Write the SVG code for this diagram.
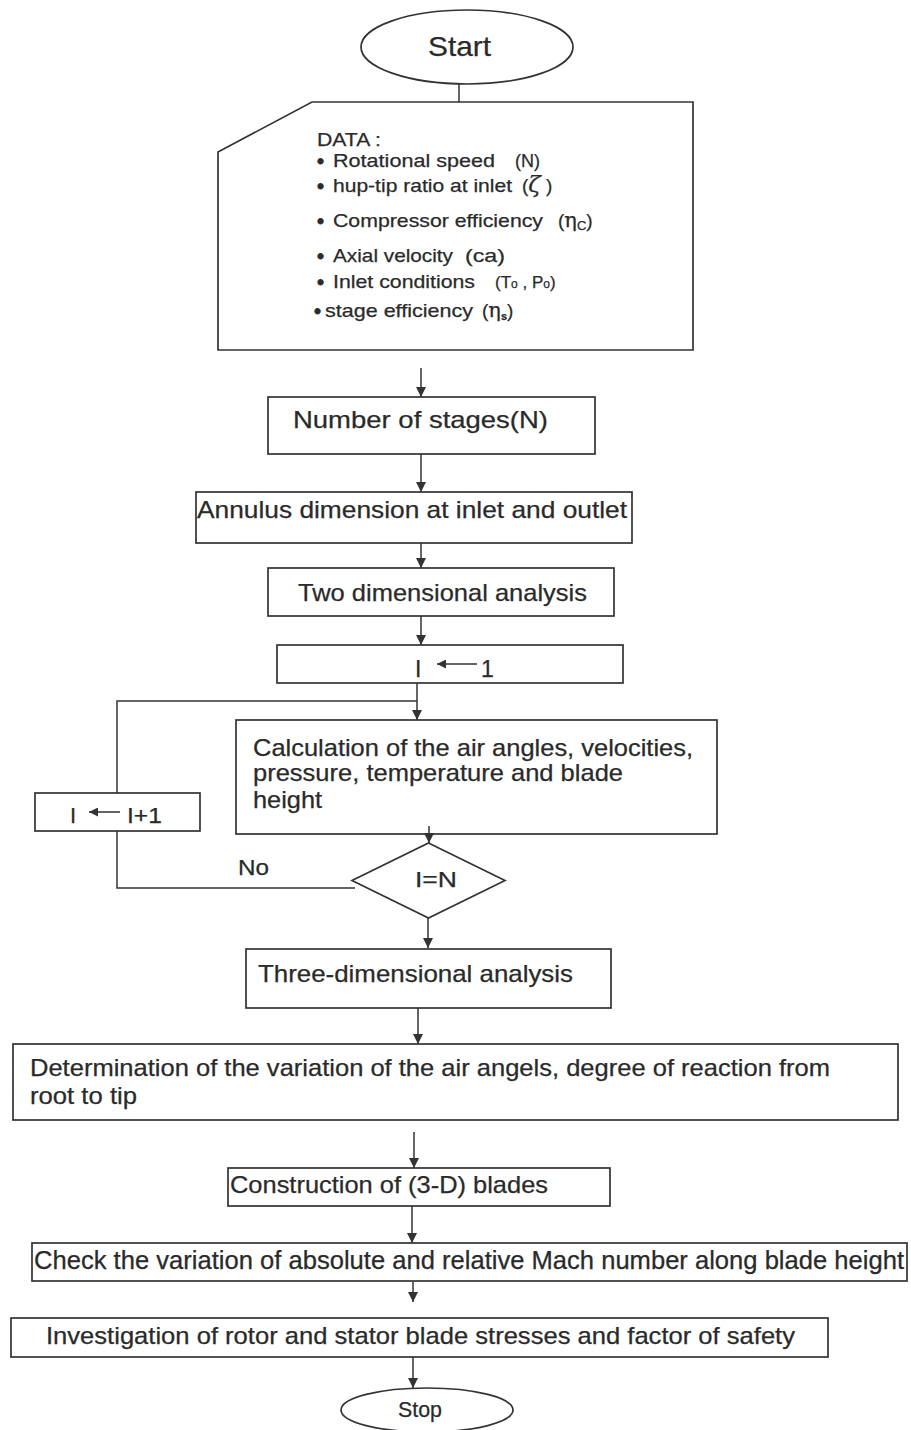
<svg xmlns="http://www.w3.org/2000/svg" width="911" height="1430" viewBox="0 0 911 1430">
<style>
  .box{fill:none;stroke:#333333;stroke-width:1.7}
  .ln{fill:none;stroke:#333333;stroke-width:1.5}
  text{font-family:"Liberation Sans",Arial,sans-serif;fill:#2a2a2a;stroke:#2a2a2a;stroke-width:0.25}
  .d{font-size:19px}
  .m{font-size:24px}
  .b{font-size:20px;stroke-width:0.8}
</style>
<defs>
  <marker id="ah" viewBox="0 0 10 10" refX="10" refY="5" markerWidth="10" markerHeight="12" markerUnits="userSpaceOnUse" orient="auto">
    <path d="M0,0 L10,5 L0,10 z" fill="#333333"/>
  </marker>
  <marker id="ahs" viewBox="0 0 10 10" refX="10" refY="5" markerWidth="13" markerHeight="9" markerUnits="userSpaceOnUse" orient="auto">
    <path d="M0,0 L10,5 L0,10 z" fill="#333333"/>
  </marker>
</defs>
<rect width="911" height="1430" fill="#ffffff"/>

<g id="connectors">
  <line class="ln" x1="459" y1="84" x2="459" y2="102"/>
  <line class="ln" x1="421" y1="368" x2="421" y2="397" marker-end="url(#ah)"/>
  <line class="ln" x1="421" y1="454" x2="421" y2="492" marker-end="url(#ah)"/>
  <line class="ln" x1="421" y1="543" x2="421" y2="568" marker-end="url(#ah)"/>
  <line class="ln" x1="421" y1="616" x2="421" y2="645" marker-end="url(#ah)"/>
  <line class="ln" x1="417" y1="683" x2="417" y2="720" marker-end="url(#ah)"/>
  <polyline class="ln" points="355,888 117,888 117,831"/>
  <polyline class="ln" points="117,793 117,701 417,701"/>
  <line class="ln" x1="429" y1="826" x2="429" y2="843" marker-end="url(#ah)"/>
  <line class="ln" x1="428" y1="918" x2="428" y2="948" marker-end="url(#ah)"/>
  <line class="ln" x1="418" y1="1008" x2="418" y2="1044" marker-end="url(#ah)"/>
  <line class="ln" x1="414" y1="1132" x2="414" y2="1168" marker-end="url(#ah)"/>
  <line class="ln" x1="412" y1="1206" x2="412" y2="1243" marker-end="url(#ah)"/>
  <line class="ln" x1="413" y1="1282" x2="413" y2="1302" marker-end="url(#ah)"/>
  <line class="ln" x1="413" y1="1357" x2="413" y2="1388" marker-end="url(#ah)"/>
</g>

<g id="start">
  <ellipse class="box" cx="467" cy="47" rx="106" ry="37"/>
  <text x="428" y="56" font-size="28" textLength="63" lengthAdjust="spacingAndGlyphs">Start</text>
</g>

<g id="data">
  <path class="box" d="M312,102 L693,102 L693,350 L218,350 L218,152 Z"/>
  <text class="d" x="317" y="146" textLength="64" lengthAdjust="spacingAndGlyphs">DATA :</text>
  <text class="b" x="317" y="168">•</text>
  <text class="d" x="333" y="167" textLength="162" lengthAdjust="spacingAndGlyphs">Rotational speed</text>
  <text class="d" x="515" y="167" textLength="25" lengthAdjust="spacingAndGlyphs">(N)</text>
  <text class="b" x="317" y="193">•</text>
  <text class="d" x="333" y="192" textLength="179" lengthAdjust="spacingAndGlyphs">hup-tip ratio at inlet</text>
  <text class="d" x="522" y="192">(<tspan font-family="DejaVu Serif,serif" font-style="italic" font-size="23">ζ</tspan> )</text>
  <text class="b" x="317" y="228">•</text>
  <text class="d" x="333" y="227" textLength="210" lengthAdjust="spacingAndGlyphs">Compressor efficiency</text>
  <text class="d" x="558" y="227">(<tspan font-family="DejaVu Serif,serif" font-size="21">η</tspan><tspan font-size="13" dy="3">C</tspan><tspan dy="-3">)</tspan></text>
  <text class="b" x="317" y="263">•</text>
  <text class="d" x="333" y="262" textLength="120" lengthAdjust="spacingAndGlyphs">Axial velocity</text>
  <text class="d" x="465" y="262" textLength="40" lengthAdjust="spacingAndGlyphs">(ca)</text>
  <text class="b" x="317" y="289">•</text>
  <text class="d" x="333" y="288" textLength="142" lengthAdjust="spacingAndGlyphs">Inlet conditions</text>
  <text x="495" y="288" font-size="17">(T<tspan font-size="12">o</tspan> , P<tspan font-size="12">o</tspan>)</text>
  <text class="b" x="314" y="318">•</text>
  <text class="d" x="325" y="317" textLength="148" lengthAdjust="spacingAndGlyphs">stage efficiency</text>
  <text class="d" x="482" y="317">(<tspan font-family="DejaVu Serif,serif" font-size="21">η</tspan><tspan font-size="11" font-weight="bold" dy="3">s</tspan><tspan dy="-3">)</tspan></text>
</g>

<g id="stages">
  <rect class="box" x="268" y="397" width="327" height="57"/>
  <text class="m" x="293" y="428" textLength="255" lengthAdjust="spacingAndGlyphs">Number of stages(N)</text>
</g>

<g id="annulus">
  <rect class="box" x="196" y="492" width="436" height="51"/>
  <text class="m" x="197" y="518" textLength="430" lengthAdjust="spacingAndGlyphs">Annulus dimension at inlet and outlet</text>
</g>

<g id="twodim">
  <rect class="box" x="268" y="568" width="346" height="48"/>
  <text class="m" x="298" y="601" textLength="289" lengthAdjust="spacingAndGlyphs">Two dimensional analysis</text>
</g>

<g id="init">
  <rect class="box" x="277" y="645" width="346" height="38"/>
  <text x="415" y="677" font-size="23">I</text>
  <line class="ln" x1="477" y1="664" x2="437" y2="664" marker-end="url(#ahs)"/>
  <text x="481" y="677" font-size="23">1</text>
</g>

<g id="calc">
  <rect class="box" x="236" y="720" width="481" height="114"/>
  <text class="m" x="253" y="756" textLength="440" lengthAdjust="spacingAndGlyphs">Calculation of the air angles, velocities,</text>
  <text class="m" x="253" y="781" textLength="370" lengthAdjust="spacingAndGlyphs">pressure, temperature and blade</text>
  <text class="m" x="253" y="808" textLength="69" lengthAdjust="spacingAndGlyphs">height</text>
</g>

<g id="incr">
  <rect class="box" x="35" y="793" width="165" height="38"/>
  <text x="70" y="823" font-size="22">I</text>
  <line class="ln" x1="120" y1="812" x2="89" y2="812" marker-end="url(#ahs)"/>
  <text x="127" y="823" font-size="22" textLength="35" lengthAdjust="spacingAndGlyphs">I+1</text>
</g>

<g id="decision">
  <polygon class="box" points="428.5,843 505,880.5 428.5,918 352,880.5"/>
  <text x="415" y="887" font-size="22" textLength="42" lengthAdjust="spacingAndGlyphs">I=N</text>
  <text x="238" y="875" font-size="22" textLength="31" lengthAdjust="spacingAndGlyphs">No</text>
</g>

<g id="threedim">
  <rect class="box" x="246" y="949" width="365" height="59"/>
  <text class="m" x="258" y="982" textLength="315" lengthAdjust="spacingAndGlyphs">Three-dimensional analysis</text>
</g>

<g id="determination">
  <rect class="box" x="13" y="1044" width="885" height="76"/>
  <text class="m" x="30" y="1076" textLength="800" lengthAdjust="spacingAndGlyphs">Determination of the variation of the air angels, degree of reaction from</text>
  <text class="m" x="30" y="1104" textLength="107" lengthAdjust="spacingAndGlyphs">root to tip</text>
</g>

<g id="construction">
  <rect class="box" x="228" y="1168" width="382" height="38"/>
  <text class="m" x="230" y="1193" textLength="318" lengthAdjust="spacingAndGlyphs">Construction of (3-D) blades</text>
</g>

<g id="check">
  <rect class="box" x="32" y="1243" width="875" height="38"/>
  <text x="34" y="1269" font-size="25" textLength="870" lengthAdjust="spacingAndGlyphs">Check the variation of absolute and relative Mach number along blade height</text>
</g>

<g id="investigation">
  <rect class="box" x="11" y="1318" width="817" height="39"/>
  <text class="m" x="46" y="1344" textLength="749" lengthAdjust="spacingAndGlyphs">Investigation of rotor and stator blade stresses and factor of safety</text>
</g>

<g id="stop">
  <ellipse class="box" cx="427" cy="1410" rx="86" ry="22"/>
  <text x="398" y="1417" font-size="22" textLength="44" lengthAdjust="spacingAndGlyphs">Stop</text>
</g>
</svg>
